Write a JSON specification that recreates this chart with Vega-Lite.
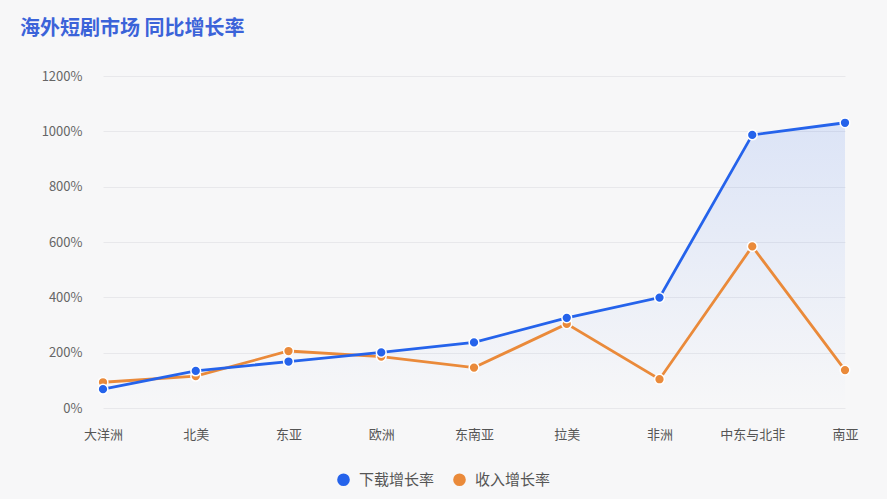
{
  "$schema": "https://vega.github.io/schema/vega-lite/v6.json",
  "width": 752,
  "height": 332,
  "autosize": "none",
  "padding": {"left": 93, "top": 76, "right": 42, "bottom": 91},
  "background": "#f7f7f8",
  "title": {
    "text": "海外短剧市场 同比增长率",
    "anchor": "start",
    "frame": "group",
    "dx": -73,
    "offset": 31,
    "fontSize": 20,
    "fontWeight": "bold",
    "color": "#3b63d9",
    "font": "Noto Sans CJK SC"
  },
  "data": {
    "values": [
      {"region": "大洋洲", "series": "收入增长率", "value": 93},
      {"region": "北美", "series": "收入增长率", "value": 115},
      {"region": "东亚", "series": "收入增长率", "value": 206},
      {"region": "欧洲", "series": "收入增长率", "value": 186},
      {"region": "东南亚", "series": "收入增长率", "value": 146},
      {"region": "拉美", "series": "收入增长率", "value": 304},
      {"region": "非洲", "series": "收入增长率", "value": 104},
      {"region": "中东与北非", "series": "收入增长率", "value": 584},
      {"region": "南亚", "series": "收入增长率", "value": 137},
      {"region": "大洋洲", "series": "下载增长率", "value": 68},
      {"region": "北美", "series": "下载增长率", "value": 134},
      {"region": "东亚", "series": "下载增长率", "value": 168},
      {"region": "欧洲", "series": "下载增长率", "value": 201},
      {"region": "东南亚", "series": "下载增长率", "value": 237},
      {"region": "拉美", "series": "下载增长率", "value": 326},
      {"region": "非洲", "series": "下载增长率", "value": 399},
      {"region": "中东与北非", "series": "下载增长率", "value": 987},
      {"region": "南亚", "series": "下载增长率", "value": 1031}
    ]
  },
  "encoding": {
    "x": {
      "field": "region",
      "type": "nominal",
      "sort": ["大洋洲", "北美", "东亚", "欧洲", "东南亚", "拉美", "非洲", "中东与北非", "南亚"],
      "scale": {"type": "point", "range": [10, 752], "padding": 0},
      "title": null,
      "axis": {
        "labelAngle": 0,
        "ticks": false,
        "domain": false,
        "grid": false,
        "labelPadding": 20,
        "labelFontSize": 13,
        "labelColor": "#555555"
      }
    },
    "y": {
      "field": "value",
      "type": "quantitative",
      "scale": {"domain": [0, 1200]},
      "title": null,
      "axis": {
        "values": [0, 200, 400, 600, 800, 1000, 1200],
        "labelExpr": "datum.value + '%'",
        "ticks": false,
        "domain": false,
        "labelPadding": 11,
        "labelFontSize": 13,
        "labelColor": "#666666",
        "gridColor": "#e8e8eb"
      }
    }
  },
  "layer": [
    {
      "transform": [{"filter": "datum.series == '下载增长率'"}],
      "mark": {
        "type": "area",
        "fill": {
          "gradient": "linear",
          "x1": 0, "y1": 0, "x2": 0, "y2": 1,
          "stops": [
            {"offset": 0, "color": "rgba(37,99,235,0.13)"},
            {"offset": 1, "color": "rgba(37,99,235,0.0)"}
          ]
        }
      }
    },
    {
      "transform": [{"filter": "datum.series == '收入增长率'"}],
      "mark": {"type": "line", "strokeWidth": 2.8},
      "encoding": {"color": {"field": "series", "type": "nominal"}}
    },
    {
      "transform": [{"filter": "datum.series == '下载增长率'"}],
      "mark": {"type": "line", "strokeWidth": 2.8},
      "encoding": {"color": {"field": "series", "type": "nominal"}}
    },
    {
      "mark": {"type": "point", "filled": true, "opacity": 1, "size": 95, "stroke": "#ffffff", "strokeWidth": 1.5},
      "encoding": {
        "color": {
          "field": "series",
          "type": "nominal",
          "scale": {"domain": ["下载增长率", "收入增长率"], "range": ["#2563eb", "#ea8a3a"]},
          "legend": {
            "title": null,
            "orient": "none",
            "direction": "horizontal",
            "legendX": 243,
            "legendY": 396,
            "symbolType": "circle",
            "symbolSize": 160,
            "symbolStrokeWidth": 0,
            "labelFontSize": 15,
            "labelColor": "#555555",
            "columnPadding": 17,
            "labelOffset": 8
          }
        }
      }
    }
  ],
  "config": {
    "font": "Noto Sans CJK SC",
    "view": {"stroke": null}
  }
}
